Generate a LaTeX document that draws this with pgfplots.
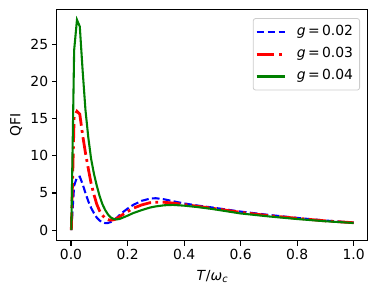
\documentclass[border=0pt]{standalone}
\usepackage{fontspec}
\setmainfont{DejaVu Sans}
\usepackage{pgfplots}
\usepackage{pgfplotstable}
\pgfplotsset{compat=1.18}
\definecolor{mplgreen}{RGB}{0,128,0}
\pgfplotstableread{
T     g2    g3    g4
0.001 0     0     0
0.011 6.0   15.3  24.2
0.021 7.1   16.0  28.3
0.031 7.2   15.6  27.4
0.041 6.2   12.8  21.5
0.051 5.0   10.4  16.2
0.061 3.9   8.3   12.5
0.071 3.0   6.3   9.6
0.081 2.3   4.8   7.6
0.091 1.7   3.5   6.0
0.101 1.3   2.6   4.6
0.111 1.05  2.0   3.5
0.121 0.95  1.6   2.7
0.131 0.97  1.4   2.1
0.141 1.1   1.35  1.7
0.151 1.35  1.4   1.5
0.161 1.65  1.55  1.45
0.171 2.0   1.8   1.5
0.181 2.35  2.05  1.65
0.20  2.9   2.5   1.95
0.22  3.4   2.95  2.3
0.25  3.95  3.4   2.7
0.28  4.25  3.7   3.05
0.30  4.3   3.75  3.2
0.33  4.15  3.75  3.35
0.36  3.9   3.65  3.4
0.40  3.6   3.45  3.3
0.45  3.3   3.2   3.1
0.50  3.05  2.95  2.85
0.60  2.5   2.4   2.25
0.70  2.05  1.95  1.85
0.80  1.65  1.6   1.5
0.90  1.3   1.25  1.2
1.00  1.0   1.0   0.97
}\data
\begin{document}
\begin{tikzpicture}
\useasboundingbox (0,0) rectangle (377pt,296pt);
\begin{axis}[
  at={(56.9pt,55.3pt)}, anchor=south west,
  scale only axis, width=310.9pt, height=231.4pt,
  xmin=-0.05, xmax=1.05, ymin=-1.415, ymax=29.715,
  xtick={0,0.2,0.4,0.6,0.8,1.0},
  ytick={0,5,10,15,20,25},
  xticklabel style={/pgf/number format/.cd,fixed,fixed zerofill,precision=1},
  /pgf/number format/assume math mode=true,
  tick align=outside, major tick length=4.86pt,
  tick style={line width=1.11pt, black},
  axis line style={line width=1.11pt},
  every axis/.append style={line width=1.11pt},
  tick label style={font=\fontsize{13.9}{16}\selectfont},
  label style={font=\fontsize{13.9}{16}\selectfont},
  xlabel style={yshift=-3pt},
  ylabel style={yshift=1pt},
  xtick pos=bottom, ytick pos=left,
  xlabel={\textit{T}/\textit{ω}\textsubscript{\textit{c}}},
  ylabel={QFI},
  legend cell align=left,
  legend style={font=\fontsize{13.9}{16}\selectfont, at={(0.975,0.962)}, anchor=north east,
    draw=black!20, line width=0.8pt, rounded corners=2.5pt, inner xsep=2pt, inner ysep=2.5pt,
    row sep=0pt, nodes={text height=10pt, text depth=3pt, inner sep=4.6pt},
    /tikz/every odd column/.append style={column sep=6pt}},
  legend image code/.code={\draw[#1] (0pt,0pt) -- (28.4pt,0pt);},
]
\addplot[blue, line width=2.08pt, dash pattern=on 7.7pt off 3.3pt] table[x=T,y=g2] {\data};
\addlegendentry{\textit{g}\,=\,0.02}
\addplot[red, line width=2.78pt, dash pattern=on 17.8pt off 4.4pt on 2.8pt off 4.4pt] table[x=T,y=g3] {\data};
\addlegendentry{\textit{g}\,=\,0.03}
\addplot[mplgreen, line width=2.08pt] table[x=T,y=g4] {\data};
\addlegendentry{\textit{g}\,=\,0.04}
\end{axis}
\end{tikzpicture}
\end{document}
